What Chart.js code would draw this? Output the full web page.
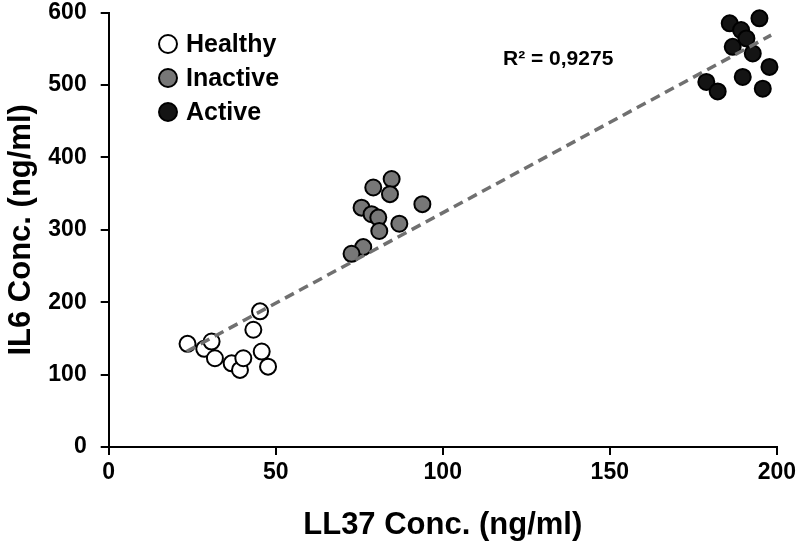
<!DOCTYPE html>
<html>
<head>
<meta charset="utf-8">
<script src="https://cdn.jsdelivr.net/npm/chart.js@4.4.1/dist/chart.umd.min.js"></script>
<style>
html, body { margin: 0; padding: 0; background: #fff; }
</style>
</head>
<body>
<canvas id="scatterChart" width="800" height="547"></canvas>
<script>
// values
var groups = ["Healthy", "Inactive", "Active"];

var healthyX = [23.6, 28.6, 30.8, 31.8, 36.8, 39.3, 40.3, 43.3, 45.3, 45.8, 47.7];
var healthyY = [142.5, 135.6, 145.7, 122.6, 115.6, 106.5, 122.6, 162.0, 187.4, 131.9, 111.0];

var inactiveX = [79.2, 84.7, 84.2, 75.7, 78.7, 80.7, 81.0, 87.0, 93.9, 76.2, 72.7];
var inactiveY = [358.5, 370.2, 349.3, 330.7, 321.6, 316.9, 298.4, 308.5, 335.5, 276.2, 266.9];

var activeX = [194.8, 185.9, 189.3, 190.9, 186.8, 192.8, 197.8, 189.8, 178.9, 182.3, 195.8];
var activeY = [592.2, 585.3, 576.0, 564.5, 552.8, 543.7, 525.1, 511.2, 504.3, 491.3, 495.0];

var trendX = [23.3, 198.3];
var trendY = [132, 569];
var r2Label = "R\u00b2 = 0,9275";

var xTicks = [0, 50, 100, 150, 200];
var yTicks = [0, 100, 200, 300, 400, 500, 600];

var fontFamily = '"Liberation Sans", Arial, sans-serif';

function pts(xs, ys) {
    return xs.map(function (x, i) { return { x: x, y: ys[i] }; });
}

var legendPlugin = {
    id: 'insideLegend',
    afterDraw: function (chart) {
        var ctx = chart.ctx;
        ctx.save();
        ctx.font = 'bold 25px ' + fontFamily;
        ctx.textBaseline = 'middle';
        ctx.textAlign = 'left';
        for (var i = 0; i < groups.length; i++) {
            var ds = chart.data.datasets[i + 1];
            var cy = 44 + i * 34;
            ctx.beginPath();
            ctx.arc(168, cy, 9, 0, Math.PI * 2);
            ctx.fillStyle = ds.backgroundColor;
            ctx.fill();
            ctx.lineWidth = 2;
            ctx.strokeStyle = '#000';
            ctx.stroke();
            ctx.fillStyle = '#000';
            ctx.fillText(ds.label, 186, cy + 1);
        }
        ctx.font = 'bold 21px ' + fontFamily;
        ctx.fillText(r2Label, 503, 59);
        ctx.restore();
    }
};

var ctx = document.getElementById('scatterChart').getContext('2d');
var chart = new Chart(ctx, {
    type: 'scatter',
    data: {
        datasets: [{
                type: 'line',
                label: 'trend',
                data: pts(trendX, trendY),
                borderColor: '#707070',
                borderWidth: 3.5,
                borderDash: [10, 6],
                pointRadius: 0,
                fill: false,
                order: -1
            }, {
                label: groups[0],
                data: pts(healthyX, healthyY),
                backgroundColor: '#ffffff',
                borderColor: '#000000',
                borderWidth: 2,
                pointRadius: 8,
                clip: false
            }, {
                label: groups[1],
                data: pts(inactiveX, inactiveY),
                backgroundColor: '#777777',
                borderColor: '#000000',
                borderWidth: 2,
                pointRadius: 8,
                clip: false
            }, {
                label: groups[2],
                data: pts(activeX, activeY),
                backgroundColor: '#141414',
                borderColor: '#000000',
                borderWidth: 2,
                pointRadius: 8,
                clip: false
            }]
    },
    options: {
        responsive: false,
        animation: false,
        layout: { padding: { top: 12.7, right: 19, bottom: 0, left: 0 } },
        plugins: {
            legend: { display: false },
            tooltip: { enabled: false }
        },
        scales: {
            x: {
                type: 'linear',
                min: 0, max: 200,
                afterFit: function (s) { s.height = 100; },
                afterBuildTicks: function (s) { s.ticks = xTicks.map(function (v) { return { value: v }; }); },
                grid: { drawOnChartArea: false, drawTicks: true, tickLength: 8, color: '#000', lineWidth: 2 },
                border: { color: '#000', width: 2 },
                ticks: { color: '#000', padding: 4, font: { family: fontFamily, size: 23, weight: 'bold' } },
                title: { display: true, text: 'LL37 Conc. (ng/ml)', color: '#000', padding: { top: 0, bottom: 3 },
                    font: { family: fontFamily, size: 31, weight: 'bold' } }
            },
            y: {
                type: 'linear',
                min: 0, max: 600,
                afterFit: function (s) { s.width = 108.7; s.paddingTop = 0; s.paddingBottom = 0; },
                afterBuildTicks: function (s) { s.ticks = yTicks.map(function (v) { return { value: v }; }); },
                grid: { drawOnChartArea: false, drawTicks: true, tickLength: 8, color: '#000', lineWidth: 2 },
                border: { color: '#000', width: 2 },
                ticks: { color: '#000', padding: 14, font: { family: fontFamily, size: 23, weight: 'bold' } },
                title: { display: true, text: 'IL6 Conc. (ng/ml)', color: '#000', padding: { top: 3, bottom: 0 },
                    font: { family: fontFamily, size: 31, weight: 'bold' } }
            }
        }
    },
    plugins: [legendPlugin]
});
</script>
</body>
</html>
